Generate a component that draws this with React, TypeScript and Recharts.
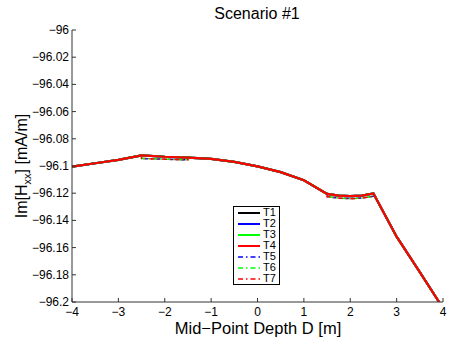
import { Line, LineChart, XAxis, YAxis } from "recharts";

const DEPTH = [-4, -3.5, -3, -2.5, -2, -1.5, -1, -0.5, 0, 0.5, 1, 1.5, 1.75, 2, 2.25, 2.5, 3, 3.5, 4];
// T1..T4 (solid) overlap exactly
const SOLID = [
  -96.1005, -96.098, -96.0955, -96.0922, -96.0932, -96.0938, -96.0948, -96.097, -96.1003, -96.1045,
  -96.1105, -96.1205, -96.1218, -96.1222, -96.1218, -96.1202, -96.152, -96.178, -96.2045,
];
// T5..T7 (dash-dot) sit a touch lower inside the two layers
const DASH_DEPTH = [-4, -3.5, -3, -2.5, -2.5, -2, -1.5, -1.5, -1, -0.5, 0, 0.5, 1, 1.5, 1.5, 1.75, 2, 2.25, 2.5, 2.5, 3, 3.5, 4];
const DASHED = [
  -96.1005, -96.098, -96.0955, -96.0922, -96.0945, -96.095, -96.0955, -96.0938, -96.0948, -96.097, -96.1003,
  -96.1045, -96.1105, -96.1205, -96.1225, -96.1236, -96.124, -96.1236, -96.1222, -96.1202, -96.152, -96.178, -96.2045,
];

const X_TICKS = [-4, -3, -2, -1, 0, 1, 2, 3, 4];
const Y_TICKS = [-96.2, -96.18, -96.16, -96.14, -96.12, -96.1, -96.08, -96.06, -96.04, -96.02, -96];

const SERIES = [
  { name: "T1", color: "#000000", dashed: false },
  { name: "T2", color: "#0000ff", dashed: false },
  { name: "T3", color: "#00ff00", dashed: false },
  { name: "T4", color: "#ff0000", dashed: false },
  { name: "T5", color: "#0000ff", dashed: true },
  { name: "T6", color: "#00ff00", dashed: true },
  { name: "T7", color: "#ff0000", dashed: true },
];

const solidData = DEPTH.map((d, i) => ({ d, v: SOLID[i] }));
const dashData = DASH_DEPTH.map((d, i) => ({ d, v: DASHED[i] }));

const FONT = "'Liberation Sans', Arial, Helvetica, sans-serif";
const DASH = "5 3 1.5 3";
const fmt = (v: number) => String(v).replace("-", "\u2212");

function YTick({ x, y, payload }: any) {
  return (
    <g>
      <line x1={x} x2={x + 4} y1={y} y2={y} stroke="#333" />
      <text x={x - 3} y={y} dy={4} textAnchor="end" fontSize={12} fill="#000" fontFamily={FONT}>
        {fmt(payload.value)}
      </text>
    </g>
  );
}

function XTick({ x, y, payload }: any) {
  return (
    <g>
      <line x1={x} x2={x} y1={y} y2={y - 4} stroke="#333" />
      <text x={x} y={y + 14} textAnchor="middle" fontSize={12} fill="#000" fontFamily={FONT}>
        {fmt(payload.value)}
      </text>
    </g>
  );
}

function LegendBox() {
  return (
    <div style={{ position: "absolute", left: 233, top: 206, border: "1px solid #000", background: "#fff",
      padding: "0 3px 0 4px", fontFamily: FONT, fontSize: 11, lineHeight: "11px" }}>
      {SERIES.map((s) => (
        <div key={s.name} style={{ display: "flex", alignItems: "center", height: 11 }}>
          <svg width={22} height={6}>
            <line x1={0} x2={22} y1={3} y2={3} stroke={s.color} strokeWidth={s.dashed ? 1.5 : 2}
              strokeDasharray={s.dashed ? DASH : undefined} />
          </svg>
          <span style={{ marginLeft: 3 }}>{s.name}</span>
        </div>
      ))}
    </div>
  );
}

// dashed series drawn first so the solid red sits on top, as in the original
const DRAW_ORDER = [4, 5, 6, 0, 1, 2, 3];

export default function App() {
  return (
    <div style={{ position: "absolute", left: 0, top: 0, width: 450, height: 338, background: "#fff" }}>
      <LineChart width={450} height={338} margin={{ top: 30, right: 7, bottom: 0, left: 0 }}>
        <text x={257} y={19} textAnchor="middle" fontSize={16} fontFamily={FONT} fill="#000">Scenario #1</text>
        <text x={258} y={334} textAnchor="middle" fontSize={16.5} fontFamily={FONT} fill="#000">Mid{"\u2212"}Point Depth D [m]</text>
        <text transform="translate(27,166) rotate(-90)" textAnchor="middle" fontSize={16} fontFamily={FONT} fill="#000">
          Im[H<tspan fontSize={11} dy={4}>xx</tspan><tspan dy={-4}>] [mA/m]</tspan>
        </text>
        <XAxis dataKey="d" type="number" domain={[-4, 4]} ticks={X_TICKS} height={36} interval={0}
          allowDuplicatedCategory={false} tickSize={0} tickMargin={0} tick={<XTick />} stroke="#333" />
        <YAxis type="number" domain={[-96.2, -96]} ticks={Y_TICKS} width={72} allowDataOverflow interval={0}
          tickSize={0} tickMargin={0} tick={<YTick />} stroke="#333" />
        {DRAW_ORDER.map((i) => {
          const s = SERIES[i];
          return (
            <Line key={s.name} data={s.dashed ? dashData : solidData} dataKey="v" name={s.name} stroke={s.color}
              strokeWidth={s.dashed ? 1.5 : 2.2} strokeDasharray={s.dashed ? DASH : undefined}
              strokeDashoffset={s.dashed ? (i - 4) * 3 : undefined} dot={false} isAnimationActive={false} />
          );
        })}
      </LineChart>
      <LegendBox />
    </div>
  );
}
